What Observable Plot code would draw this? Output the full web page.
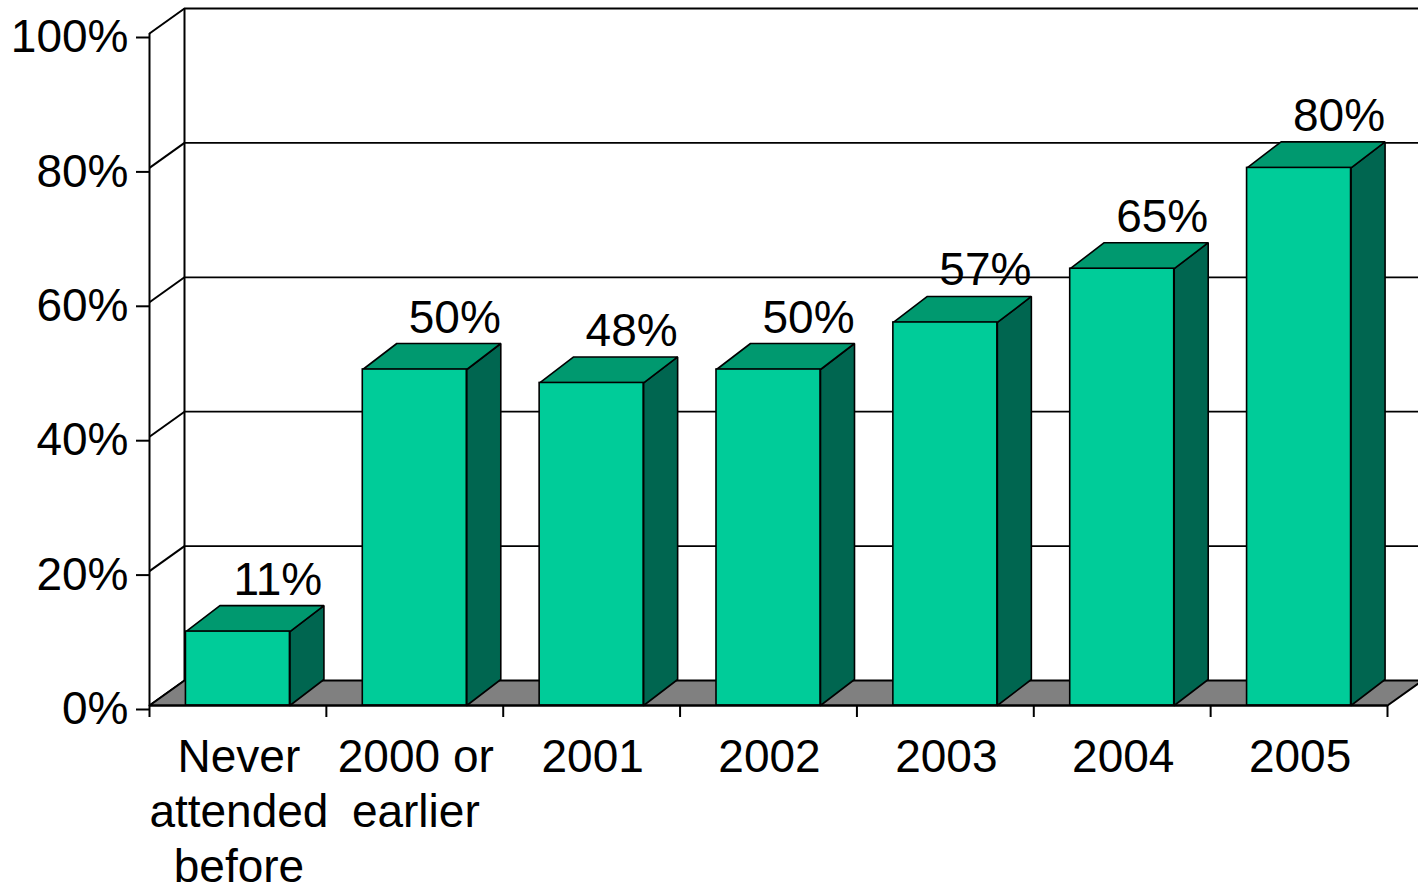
<!DOCTYPE html>
<html><head><meta charset="utf-8">
<script src="https://cdn.jsdelivr.net/npm/d3@7"></script>
<script src="https://cdn.jsdelivr.net/npm/@observablehq/plot@0.6"></script>
<style>body{margin:0;background:#fff;overflow:hidden}</style>
</head><body><div id="chart"></div>
<script>
const categories = ["Never\nattended\nbefore", "2000 or\nearlier", "2001", "2002", "2003", "2004", "2005"];
const values = [11, 50, 48, 50, 57, 65, 80];
const valueLabels = ["11%", "50%", "48%", "50%", "57%", "65%", "80%"];
const yTicks = [0, 20, 40, 60, 80, 100];
const yTickLabels = ["0%", "20%", "40%", "60%", "80%", "100%"];

const W = 1418, H = 894;
const mL = 149, mR = 31, mT = 33, mB = 189;
const n = categories.length;
const pxX = (W - mL - mR) / n;
const pxY = (H - mT - mB) / 100;
const wallDX = 35 / pxX, wallDY = 25 / pxY;
const barDX = 34 / pxX, barDY = 26 / pxY;
const halfW = 52 / pxX;

const bars = values.map((v, i) => ({i, v, x1: i + 0.5 - halfW, x2: i + 0.5 + halfW}));
const poly = (pts, z) => pts.map(([x, y]) => ({x, y, z}));
const tops = bars.flatMap(b => poly([[b.x1, b.v], [b.x1 + barDX, b.v + barDY], [b.x2 + barDX, b.v + barDY], [b.x2, b.v], [b.x1, b.v]], b.i));
const sides = bars.flatMap(b => poly([[b.x2, 0], [b.x2, b.v], [b.x2 + barDX, b.v + barDY], [b.x2 + barDX, barDY], [b.x2, 0]], b.i));
const floor = poly([[0, 0], [wallDX, wallDY], [n + wallDX, wallDY], [n, 0], [0, 0]], 0);

const chart = Plot.plot({
  width: W, height: H,
  marginLeft: mL, marginRight: mR, marginTop: mT, marginBottom: mB,
  style: {fontFamily: "'Liberation Sans', Arial, sans-serif", fontSize: "46px", background: "white", color: "black", overflow: "hidden"},
  x: {type: "linear", domain: [0, n]},
  y: {domain: [0, 100]},
  marks: [
    // back wall
    Plot.ruleY(yTicks.filter(t => t > 0), {y: d => d + wallDY, x1: wallDX, x2: n + wallDX + 1, stroke: "black", strokeWidth: 1.8}),
    Plot.ruleX([wallDX], {y1: wallDY, y2: 100 + wallDY, stroke: "black", strokeWidth: 2}),
    Plot.link(yTicks, {x1: 0, y1: d => d, x2: wallDX, y2: d => d + wallDY, stroke: "black", strokeWidth: 2}),
    Plot.ruleX([0], {y1: 0, y2: 100, stroke: "black", strokeWidth: 2}),
    // floor
    Plot.line(floor, {x: "x", y: "y", z: "z", fill: "#808080", stroke: "black", strokeWidth: 2, strokeLinejoin: "miter"}),
    // bars
    Plot.line(sides, {x: "x", y: "y", z: "z", fill: "#006650", stroke: "black", strokeWidth: 1.6, strokeLinejoin: "miter"}),
    Plot.line(tops, {x: "x", y: "y", z: "z", fill: "#00996F", stroke: "black", strokeWidth: 1.6, strokeLinejoin: "miter"}),
    Plot.rect(bars, {x1: "x1", x2: "x2", y1: 0, y2: "v", fill: "#00CC99", stroke: "black", strokeWidth: 1.6}),
    Plot.ruleY([0], {x1: 0, x2: n, stroke: "black", strokeWidth: 2}),
    // value labels
    Plot.text(bars, {x: d => d.i + 0.5, y: "v", text: (d, i) => valueLabels[i], dx: 40, dy: -37, lineAnchor: "bottom", fontSize: 46, fill: "black"}),
    // axes
    Plot.axisY(yTicks, {anchor: "left", tickSize: 13, tickPadding: 8, dy: 4, tickFormat: d => yTickLabels[yTicks.indexOf(d)], fontSize: 46, strokeWidth: 2, label: null}),
    Plot.axisX(d3.range(n + 1), {anchor: "bottom", tickSize: 12, tickFormat: () => "", strokeWidth: 2, label: null}),
    Plot.axisX(d3.range(n).map(i => i + 0.5), {anchor: "bottom", tickSize: 0, tickPadding: 27, dx: 1, tickFormat: d => categories[Math.floor(d)], fontSize: 46, lineHeight: 1.2, label: null})
  ]
});
document.getElementById("chart").appendChild(chart);
</script>
</body></html>
